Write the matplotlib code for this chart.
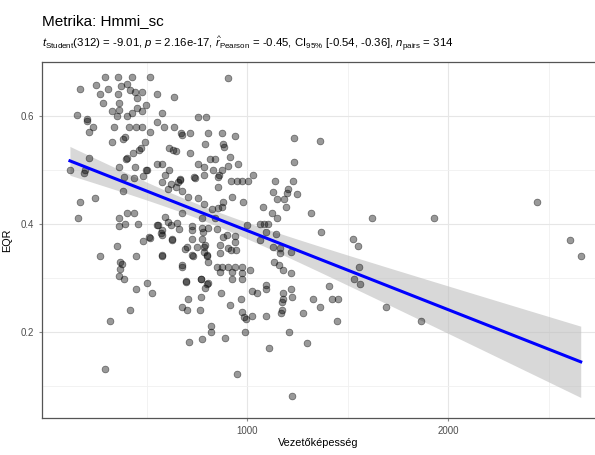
import numpy as np
import matplotlib
matplotlib.use("Agg")
import matplotlib.pyplot as plt
from matplotlib.ticker import MultipleLocator

plt.rcParams['font.family'] = ['Liberation Sans', 'DejaVu Sans']
plt.rcParams['mathtext.fontset'] = 'custom'
plt.rcParams['mathtext.rm'] = 'Liberation Sans'
plt.rcParams['mathtext.it'] = 'Liberation Sans:italic'

# Vezetőképesség (x) es EQR (y), a kepről leolvasva
vezeto = [
    293, 360, 426, 517, 169, 249, 310, 373, 401, 418, 443, 476, 269, 360, 451, 551,
    285, 365, 497, 327, 365, 426, 451, 476, 156, 202, 205, 355, 401, 551, 235, 215,
    340, 414, 448, 476, 517, 393, 384, 327, 492, 471, 464, 431, 215, 401, 398, 551,
    119, 189, 194, 365, 443, 497, 504, 390, 438, 481,
    904, 638, 578, 758, 794, 588, 638, 670, 675, 716, 807, 877, 940, 791, 882, 885,
    612, 633, 645, 716, 915, 816, 841, 578, 758, 787, 904, 957, 612, 832, 874, 592,
    787, 861, 738, 667, 1030,
    575, 622, 645, 667, 655, 741, 857, 857, 920, 949, 976, 1006, 605, 678, 708, 755,
    927, 981, 882, 787, 857, 874, 824, 675, 774, 841, 998, 556, 592, 608, 622, 575,
    650, 662, 725, 725, 774, 804, 849, 899, 882, 940, 572, 628, 725, 774, 940, 791,
    787, 700, 750, 866, 904, 920, 945, 691, 728, 799, 575, 804, 675, 675, 849, 874,
    907, 940, 976, 866, 924, 1015, 771, 807, 791, 927, 695, 973, 973,
    771, 708, 870, 970, 915, 675, 700, 766, 976, 986, 993, 1026, 821, 821, 990, 892,
    774, 711, 1023,
    269, 355, 368, 376, 368, 365, 389, 448, 481, 517, 448, 501, 529, 418, 318, 293,
    578, 625, 575, 696, 770, 799, 949, 1048, 733, 786, 802, 866, 782,
    169, 244, 161, 381, 365, 401, 438, 393, 365, 459, 550, 514,
    1234, 1363, 1234, 1139, 1230, 1131, 1205, 1200, 1250, 1148, 1185, 1194, 1081, 1123,
    1151, 1317, 1620, 1932, 1064, 1084, 1106, 1094, 1144, 1367, 1526,
    1064, 1128, 1164, 1164, 1217, 1554, 1134, 1160, 1180, 1217, 1557, 1532, 1562, 1406,
    1093, 1093, 1180, 1219, 1222, 1180, 1172, 1330, 1363, 1423, 1454, 1690, 1093, 1172,
    1167, 1280, 1446, 1864, 1210, 1109, 1297, 1222,
    2444, 2605, 2660,
]
eqr = [
    0.672, 0.672, 0.672, 0.672, 0.650, 0.657, 0.650, 0.656, 0.659, 0.648, 0.645, 0.645, 0.641, 0.641, 0.633, 0.640,
    0.625, 0.625, 0.620, 0.610, 0.612, 0.606, 0.614, 0.610, 0.602, 0.594, 0.591, 0.600, 0.600, 0.589, 0.580, 0.571,
    0.580, 0.580, 0.580, 0.580, 0.571, 0.562, 0.557, 0.551, 0.551, 0.540, 0.537, 0.531, 0.522, 0.523, 0.520, 0.511,
    0.501, 0.495, 0.500, 0.506, 0.505, 0.501, 0.500, 0.487, 0.486, 0.489,
    0.671, 0.635, 0.605, 0.599, 0.599, 0.579, 0.579, 0.569, 0.565, 0.569, 0.569, 0.569, 0.563, 0.549, 0.549, 0.543,
    0.540, 0.538, 0.536, 0.531, 0.525, 0.520, 0.520, 0.511, 0.511, 0.505, 0.507, 0.511, 0.501, 0.500, 0.501, 0.491,
    0.491, 0.491, 0.487, 0.483, 0.491,
    0.478, 0.474, 0.469, 0.482, 0.477, 0.485, 0.488, 0.469, 0.480, 0.480, 0.480, 0.480, 0.465, 0.461, 0.451, 0.449,
    0.451, 0.440, 0.440, 0.437, 0.429, 0.432, 0.427, 0.421, 0.412, 0.412, 0.399, 0.399, 0.414, 0.404, 0.398, 0.389,
    0.402, 0.390, 0.396, 0.389, 0.392, 0.392, 0.390, 0.380, 0.376, 0.378, 0.383, 0.373, 0.373, 0.373, 0.367, 0.361,
    0.358, 0.358, 0.358, 0.361, 0.356, 0.352, 0.352, 0.353, 0.343, 0.343, 0.343, 0.329, 0.325, 0.321, 0.321, 0.321,
    0.321, 0.321, 0.321, 0.312, 0.312, 0.315, 0.299, 0.290, 0.281, 0.298, 0.293, 0.310, 0.299,
    0.265, 0.261, 0.272, 0.261, 0.251, 0.247, 0.241, 0.241, 0.238, 0.228, 0.224, 0.230, 0.212, 0.201, 0.201, 0.190,
    0.187, 0.181, 0.276,
    0.341, 0.360, 0.329, 0.326, 0.316, 0.304, 0.299, 0.341, 0.369, 0.375, 0.279, 0.290, 0.272, 0.241, 0.221, 0.131,
    0.341, 0.370, 0.380, 0.295, 0.298, 0.289, 0.122, 0.273, 0.341, 0.349, 0.340, 0.346, 0.386,
    0.440, 0.449, 0.412, 0.461, 0.412, 0.420, 0.420, 0.401, 0.396, 0.401, 0.399, 0.376,
    0.559, 0.554, 0.515, 0.480, 0.480, 0.460, 0.464, 0.458, 0.455, 0.446, 0.446, 0.431, 0.431, 0.420,
    0.412, 0.420, 0.412, 0.412, 0.401, 0.401, 0.401, 0.386, 0.381, 0.386, 0.372,
    0.370, 0.357, 0.347, 0.355, 0.349, 0.360, 0.330, 0.325, 0.315, 0.310, 0.320, 0.298, 0.289, 0.285,
    0.287, 0.279, 0.272, 0.280, 0.265, 0.261, 0.256, 0.261, 0.246, 0.261, 0.261, 0.247, 0.230, 0.241,
    0.236, 0.236, 0.221, 0.221, 0.201, 0.170, 0.180, 0.082,
    0.440, 0.371, 0.340,
]

x_ticks = [1000, 2000]
y_ticks = [0.2, 0.4, 0.6]

title = "Metrika: Hmmi_sc"
subtitle = (r"$\it{t}_{\rm Student}$(312) = -9.01, $\it{p}$ = 2.16e-17, "
            r"$\widehat{\it{r}}_{\rm Pearson}$ = -0.45, CI$_{\rm 95\%}$ [-0.54, -0.36], "
            r"$\it{n}_{\rm pairs}$ = 314")

x = np.array(vezeto, dtype=float)
y = np.array(eqr, dtype=float)

# linearis illesztes + 95% CI
n = len(x)
b, a = np.polyfit(x, y, 1)
xs = np.linspace(x.min(), x.max(), 80)
yhat = a + b * xs
resid = y - (a + b * x)
s = np.sqrt(np.sum(resid ** 2) / (n - 2))
se = s * np.sqrt(1 / n + (xs - x.mean()) ** 2 / np.sum((x - x.mean()) ** 2))
tcrit = 1.968
lo, hi = yhat - tcrit * se, yhat + tcrit * se

fig = plt.figure(figsize=(5.95, 4.55), dpi=100)
ax = fig.add_axes([42 / 595, 37 / 455, 553 / 595, 356 / 455])

ax.scatter(x, y, s=24, facecolor=(0, 0, 0, 0.40), edgecolor=(0, 0, 0, 0.5),
           linewidth=0.5, zorder=3)
ax.fill_between(xs, lo, hi, color='#BEBEBE', alpha=0.6, linewidth=0, zorder=2)
ax.plot(xs, yhat, color='#0000FF', linewidth=2.2, zorder=4)

ax.set_xlim(-20, 2731)
ax.set_ylim(0.041, 0.700)
ax.set_xticks(x_ticks)
ax.set_xticklabels([str(t) for t in x_ticks])
ax.set_xticks([500, 1500, 2500], minor=True)
ax.set_yticks(y_ticks)
ax.set_yticklabels([f"{t:.1f}" for t in y_ticks])
ax.set_yticks([0.1, 0.3, 0.5, 0.7], minor=True)
ax.grid(which='major', color='#E6E6E6', linewidth=0.8)
ax.grid(which='minor', color='#F0F0F0', linewidth=0.6)
ax.set_axisbelow(True)

for side in ['top', 'left', 'bottom']:
    ax.spines[side].set_color('#555555')
    ax.spines[side].set_linewidth(0.9)
ax.spines['right'].set_visible(False)

ax.tick_params(which='major', length=2.5, color='#888888', labelcolor='#4D4D4D',
               labelsize=7, pad=3)
ax.tick_params(which='minor', length=0)

ax.set_xlabel("Vezetőképesség", fontsize=7.8, labelpad=2)
ax.set_ylabel("EQR", fontsize=7.8, labelpad=6)

fig.text(42 / 595, 1 - 21 / 455, title, fontsize=11, va='center', ha='left')
fig.text(42 / 595, 1 - 44 / 455, subtitle, fontsize=8.2, va='center', ha='left')

fig.savefig("out.png", dpi=100, facecolor='white')
